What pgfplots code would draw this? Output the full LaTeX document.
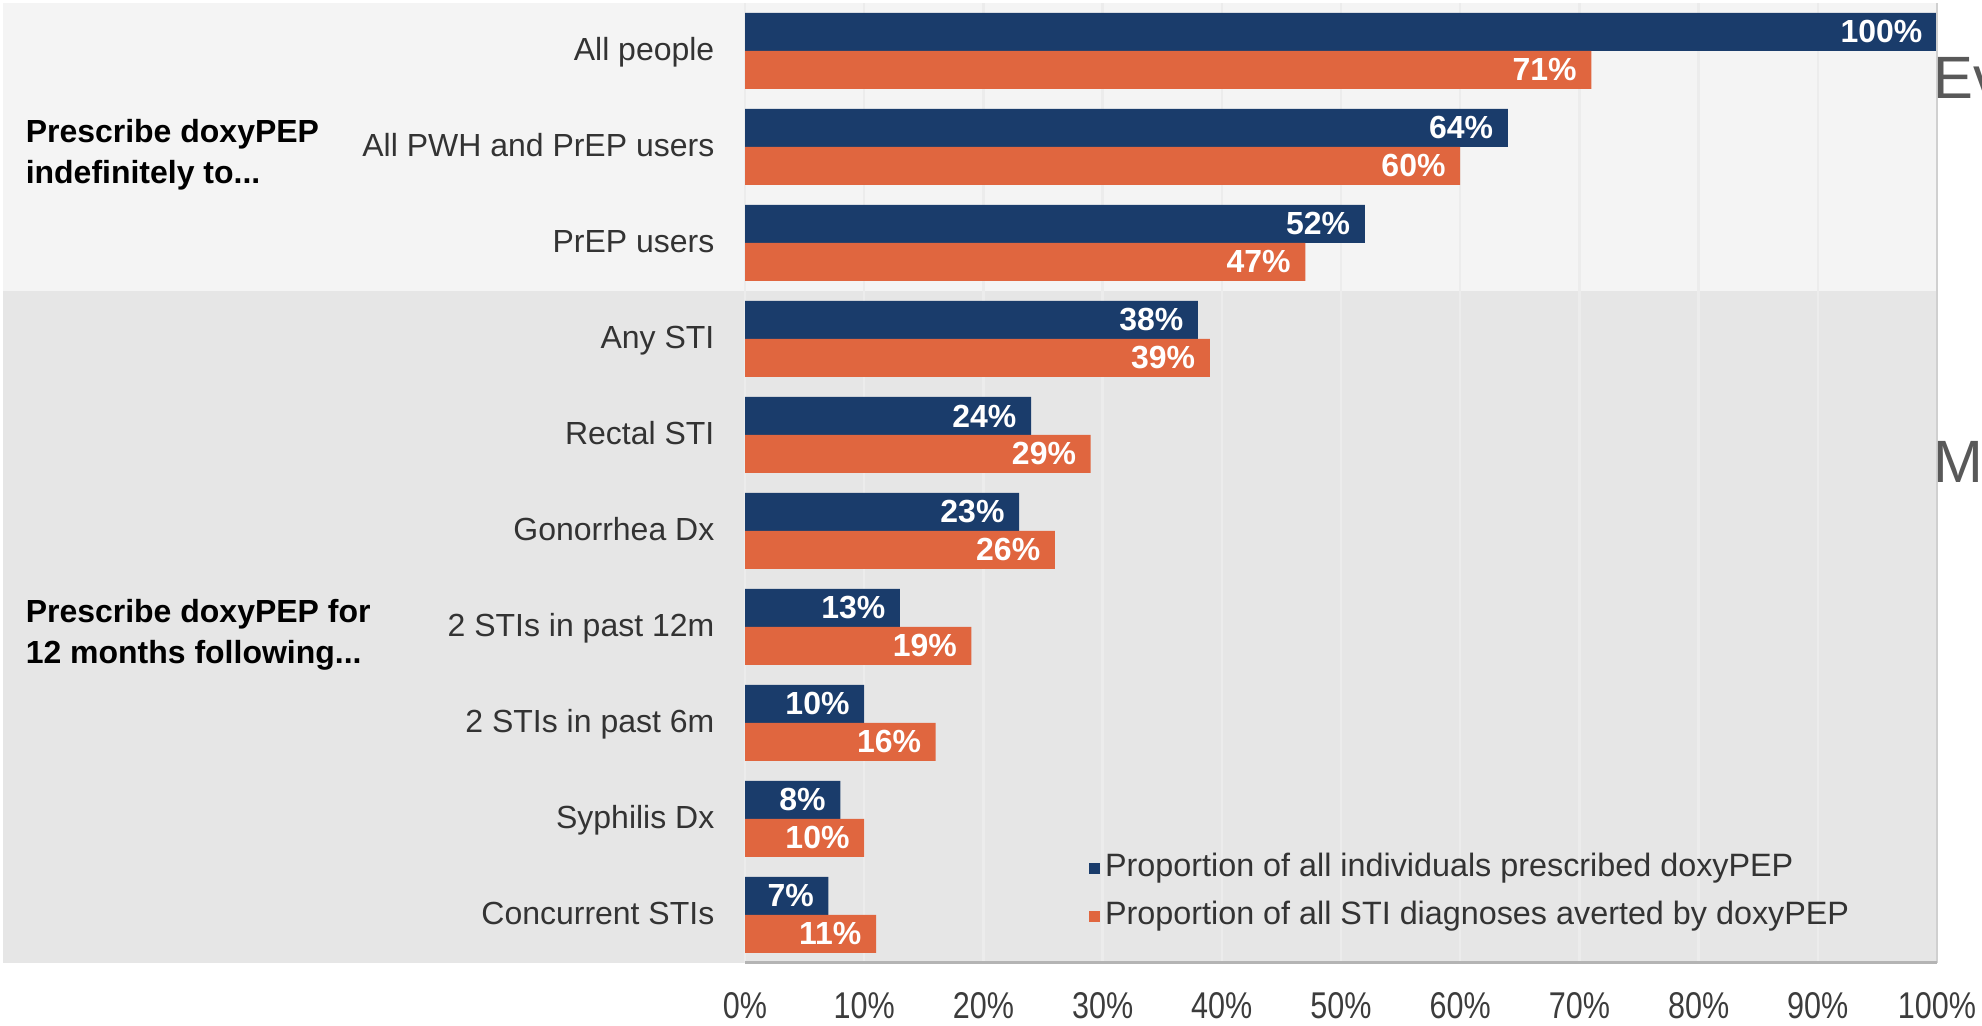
\documentclass[border=0pt]{standalone}
\usepackage{pgfplots}
\pgfplotsset{compat=1.18}
\usepackage{fontspec}
\setmainfont{Liberation Sans}
\newfontfamily\narrowfont{Liberation Sans}[FakeStretch=0.82]

\definecolor{navy}{HTML}{1A3C6B}
\definecolor{orng}{HTML}{E0663F}
\definecolor{bgtop}{HTML}{F4F4F4}
\definecolor{bgbot}{HTML}{E6E6E6}
\definecolor{gridc}{HTML}{ECECEC}
\definecolor{labc}{HTML}{333333}
\definecolor{tickc}{HTML}{3C3C3C}
\definecolor{sidec}{HTML}{595959}
\definecolor{edgec}{HTML}{B4B4B4}
\definecolor{edgec2}{HTML}{D0D0D0}

\begin{document}
\begin{tikzpicture}
% page frame
\path (-0.3mm,-6.3mm) rectangle (197.9mm,96.3mm);
% panel backgrounds (axis box is 193.4mm x 96mm at the origin, 9.6mm per row)
\fill[bgtop] (0,67.2mm) rectangle (193.4mm,96mm);
\fill[bgbot] (0,0) rectangle (193.4mm,67.2mm);
\begin{axis}[
    at={(0,0)}, anchor=south west,
    scale only axis,
    width=193.4mm, height=96mm,
    xmin=-62.25, xmax=100,
    ymin=-0.5, ymax=9.5,
    xbar, bar width=3.8mm,
    clip=false,
    axis line style={draw=none},
    major tick length=0pt,
    xtick={0,10,...,100},
    xticklabels={0\%,10\%,20\%,30\%,40\%,50\%,60\%,70\%,80\%,90\%,100\%},
    xticklabel style={anchor=center, inner sep=0pt, yshift=-4.3mm, text=tickc,
        font=\narrowfont\fontsize{10.6}{12}\selectfont},
    ytick={0,...,9},
    yticklabels={Concurrent STIs, Syphilis Dx, 2 STIs in past 6m, 2 STIs in past 12m,
        Gonorrhea Dx, Rectal STI, Any STI, PrEP users, All PWH and PrEP users, All people},
    yticklabel style={anchor=mid east, inner sep=0pt, xshift=71.2mm, text=labc, font=\fontsize{9.1}{11}\selectfont},
    xmajorgrids, grid style={gridc, line width=0.25mm},
    point meta=x,
    nodes near coords={\pgfmathprintnumber{\pgfplotspointmeta}\%},
    every node near coord/.append style={anchor=east, inner sep=0pt, xshift=-1.4mm,
        text=white, font=\fontsize{9.1}{11}\selectfont\bfseries,
        /pgf/number format/assume math mode=true},
    legend cell align=left,
    legend style={at={(0.5612,0.121)}, anchor=north west, draw=none, fill=none,
        inner sep=0pt, row sep=0.7mm, font=\fontsize{9.2}{11}\selectfont,
        nodes={inner sep=0.5mm, text height=2.4mm, text depth=0.7mm, text=labc}},
    legend image code/.code={\fill[#1] (0mm,-0.55mm) rectangle (1.1mm,0.55mm);},
]

\addplot[fill=navy, draw=none, bar shift=1.9mm] coordinates {
    (100,9) (64,8) (52,7) (38,6) (24,5) (23,4) (13,3) (10,2) (8,1) (7,0)};
\addlegendentry{Proportion of all individuals prescribed doxyPEP}

\addplot[fill=orng, draw=none, bar shift=-1.9mm] coordinates {
    (71,9) (60,8) (47,7) (39,6) (29,5) (26,4) (19,3) (16,2) (10,1) (11,0)};
\addlegendentry{Proportion of all STI diagnoses averted by doxyPEP}

\draw[edgec2, line width=0.2mm] (axis cs:100,-0.5) -- (axis cs:100,9.5);
\draw[edgec, line width=0.3mm] (axis cs:0,-0.5) -- (axis cs:100,-0.5);

% group labels, one node per line
\tikzset{grp/.style={anchor=base west, inner sep=0pt, font=\fontsize{9.1}{11}\selectfont\bfseries}}
\node[grp] at (axis cs:-60.4,8.048) {Prescribe doxyPEP};
\node[grp] at (axis cs:-60.4,7.62) {indefinitely to...};
\node[grp] at (axis cs:-60.4,3.048) {Prescribe doxyPEP for};
\node[grp] at (axis cs:-60.4,2.62) {12 months following...};

% cut-off slide text at the right edge (kept out of the page size)
\node[overlay, anchor=base west, inner sep=0pt, xshift=-0.4mm, text=sidec, font=\fontsize{17}{20}\selectfont]
    at (axis cs:100,8.506) {Ev};
\node[overlay, anchor=base west, inner sep=0pt, xshift=-0.4mm, text=sidec, font=\fontsize{17}{20}\selectfont]
    at (axis cs:100,4.506) {M};
\end{axis}
\end{tikzpicture}
\end{document}
